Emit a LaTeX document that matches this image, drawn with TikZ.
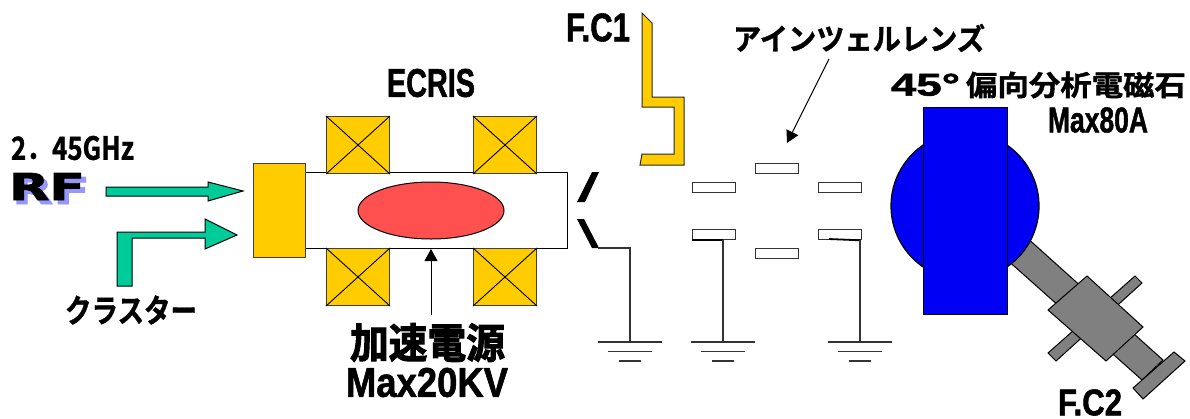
\documentclass[tikz,border=0pt]{standalone}
\usepackage{fontspec}
\setmainfont{Liberation Sans}
\newfontfamily\jpbold[FakeBold=1.2]{Noto Sans CJK JP Bold}
\newfontfamily\jpblack[FakeBold=2.5]{Noto Sans CJK JP Bold}
\newfontfamily\latbold[FakeBold=1.5]{Liberation Sans Bold}
\newfontfamily\heavy[FakeBold=2]{DejaVu Sans Bold}
\usetikzlibrary{arrows.meta,shapes.geometric}
\definecolor{amber}{RGB}{255,204,0}
\definecolor{teal}{RGB}{0,204,153}
\definecolor{rosy}{RGB}{255,80,80}
\definecolor{deepblue}{RGB}{0,0,245}
\definecolor{midgray}{RGB}{128,128,128}
\definecolor{rfshadow}{RGB}{150,150,255}
\newcommand{\fit}[3]{\resizebox{#1pt}{#2pt}{#3}}
\tikzset{
  x=1pt,y=-1pt,
  coilbox/.style={line width=1pt,fill=amber,draw=black!75},
  lensplate/.style={draw=black!80,line width=1.3pt,fill=white},
  slit/.style={fill=black},
  gnd/.style={draw=black!80,line width=1.2pt},
  flow/.style={draw=black,line width=1pt,fill=teal},
  magnet/.style={draw=black,line width=1.2pt,fill=deepblue},
  duct/.style={draw=black,line width=1pt,fill=midgray},
  lbl/.style={inner sep=0pt,outer sep=0pt,anchor=center},
  pointer/.style={draw=black,line width=1pt,-{Triangle[length=12pt,width=13pt]}}
}
\begin{document}
\begin{tikzpicture}
\useasboundingbox (0,0) rectangle (1190,418);
\clip (0,0) rectangle (1190,418);
% source
\node[draw=black,line width=1.2pt,minimum width=262pt,minimum height=76pt,inner sep=0,anchor=north west] (tube) at (305,172) {};
\node[coilbox,minimum width=52pt,minimum height=94pt,inner sep=0,anchor=north west] (src) at (253,163) {};
\foreach \n/\cx/\cy in {ca/326/116,cb/473/116,cc/326/248,cd/473/248}{
  \node[coilbox,minimum width=63pt,minimum height=57pt,inner sep=0,anchor=north west] (\n) at (\cx,\cy) {};
  \draw[line width=0.9pt] (\n.north west) -- (\n.south east) (\n.north east) -- (\n.south west);
}
\node[draw=black,line width=1pt,fill=rosy,ellipse,minimum width=146pt,minimum height=57pt,inner sep=0] (plasma) at (431,210.5) {};
% inlet arrows
\path[flow] (106,187) -- (208,187) -- (208,182) -- (243,191) -- (208,201) -- (208,196) -- (106,196) -- cycle;
\path[flow] (117,286) -- (117,232) -- (205,232) -- (205,219) -- (237,235) -- (205,249) -- (205,238) -- (132,238) -- (132,286) -- cycle;
% HV
\coordinate (hvfoot) at (431,315);
\coordinate (hvtip) at (431,249);
\draw[pointer] (hvfoot) -- (hvtip);
% slit
\path[slit] (577,202) -- (585,202) -- (599,172) -- (592,172) -- cycle;
\path[slit] (577,219) -- (584,219) -- (599,248) -- (592,248) -- cycle;
\coordinate (sb2) at (598,248);
% grounds
\foreach \n/\gx in {ga/630,gb/723,gc/860}{
  \coordinate (\n) at (\gx,342);
  \draw[gnd] (\gx-32,342) -- (\gx+32,342);
  \draw[gnd] (\gx-22,351.5) -- (\gx+22,351.5);
  \draw[gnd] (\gx-11,361) -- (\gx+11,361);
}
\draw[gnd] (sb2) -- (sb2 -| ga) -- (ga);
% FC1
\path[draw=black!85,line width=1pt,fill=amber] (642,13) -- (652,23) -- (652,97) -- (684,97) -- (684,165) -- (640,165) -- (642,154) -- (674,154) -- (674,107) -- (642,107) -- cycle;
% lens
\foreach \n/\lx/\ly in {la/692/182,lb/755/163,lc/818/182,ld/692/229,le/755/248,lf/818/229}{
  \node[lensplate,minimum width=43pt,minimum height=10pt,inner sep=0,anchor=north west] (\n) at (\lx,\ly) {};
}
\draw[line width=1.8pt] (ld.south west) -- (ld.south west -| gb);
\draw[gnd] (ld.south -| gb) -- (gb);
\draw[line width=1.8pt] (829,239) -- (lf.south -| gc);
\draw[gnd] (lf.south -| gc) -- (gc);
\coordinate (lensfoot) at (829,59);
\draw[pointer] (lensfoot) -- (787,143);
% FC2 duct
\path[duct] (1025,236) -- (1005,258) -- (1142,380) -- (1163,360) -- cycle;
\path[duct] (1135,276) -- (1142,283) -- (1056,361) -- (1048,353) -- cycle;
\path[duct] (1087,276) -- (1143,327) -- (1106,361) -- (1048,310) -- cycle;
\path[duct] (1174,352) -- (1185,361) -- (1143,399) -- (1133,388) -- cycle;
% magnet
\node[magnet,circle,minimum size=148pt,inner sep=0] (pole) at (965,206) {};
\node[magnet,minimum width=84pt,minimum height=207pt,inner sep=0,anchor=north west] (yoke) at (923,107) {};
% labels
\node[lbl] (t245) at (72.5,148) {\fit{123}{24}{\jpbold 2．45GHz}};
\node[lbl,text=rfshadow] (trfs) at (51,190.5) {\fit{78}{27}{\heavy RF}};
\node[lbl] (trf) at (47,186.5) {\fit{76}{27}{\heavy RF}};
\node[lbl] (tcl) at (131,310) {\fit{132}{27}{\jpbold クラスター}};
\node[lbl] (tecr) at (431,83) {\fit{88}{28}{\latbold ECRIS}};
\node[lbl] (thv) at (427.5,342.5) {\fit{155}{35}{\jpblack 加速電源}};
\node[lbl] (tmax) at (427,382.5) {\fit{162}{29}{\latbold Max20KV}};
\node[lbl] (tfc1) at (598,27.5) {\fit{64}{28}{\latbold F.C1}};
\node[lbl] (tlens) at (859,38) {\fit{252}{26}{\jpbold アインツェルレンズ}};
\node[lbl] (tmag) at (1038.5,85) {\fit{69}{22}{\latbold 45°}\hspace{6pt}\fit{220}{24}{\jpbold 偏向分析電磁石}};
\node[lbl] (t80) at (1098,120) {\fit{100}{25}{\latbold Max80A}};
\node[lbl] (tfc2) at (1090,402.5) {\fit{64}{26}{\latbold F.C2}};
\end{tikzpicture}
\end{document}
